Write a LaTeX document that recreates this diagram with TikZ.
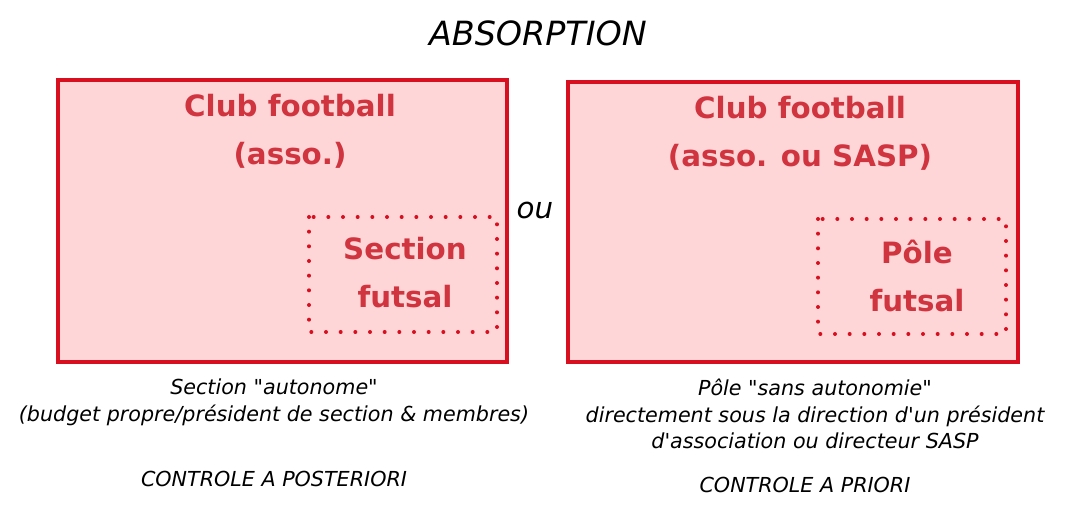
\documentclass[tikz,border=0pt]{standalone}
\usepackage{fontspec}
\setmainfont{DejaVu Sans}
\definecolor{boxred}{HTML}{D80F1E}
\definecolor{boxfill}{HTML}{FFD6D8}
\definecolor{txtred}{HTML}{D0343E}
\begin{document}
\begin{tikzpicture}[x=0.75pt,y=-0.75pt,
    club/.style={draw=boxred, fill=boxfill, line width=2.5pt},
    inner/.style={draw=boxred, line width=3pt, dash pattern=on 0pt off 11pt, line cap=round},
    lbl/.style={text=txtred, font=\fontsize{22}{36}\selectfont\bfseries, align=center},
    note/.style={font=\fontsize{15.5}{20}\selectfont\itshape, align=center}]
  \useasboundingbox (0,0) rectangle (1070,505);

  \node[font=\fontsize{25}{30}\selectfont\itshape] (title) at (538,33) {ABSORPTION};

  % left
  \draw[club] (58,80) rectangle (507,362);
  \draw[inner] (309,217) rectangle (497,332);
  \node[lbl] (clubA) at (290,131) {Club football\\(asso.)};
  \node[lbl] (secA) at (405,273) {Section\\futsal};

  \node[font=\fontsize{22}{26}\selectfont\itshape] (ou) at (535,210) {ou};

  % right
  \draw[club] (568,82) rectangle (1018,362);
  \draw[inner] (818,219) rectangle (1006,334);
  \node[lbl] (clubB) at (800,133) {Club football\\(asso. ou SASP)};
  \node[lbl] (poleB) at (917,276) {Pôle\\futsal};

  \node[note] (capA) at (274,402) {Section \textquotedbl autonome\textquotedbl\\(budget propre/président de section \& membres)};
  \node[note] (ctlA) at (274,479) {CONTROLE A POSTERIORI};
  \node[note] (capB) at (815,414) {Pôle \textquotedbl sans autonomie\textquotedbl\\directement sous la direction d\textquotesingle un président\\d\textquotesingle association ou directeur SASP};
  \node[note] (ctlB) at (805,485) {CONTROLE A PRIORI};
\end{tikzpicture}
\end{document}
